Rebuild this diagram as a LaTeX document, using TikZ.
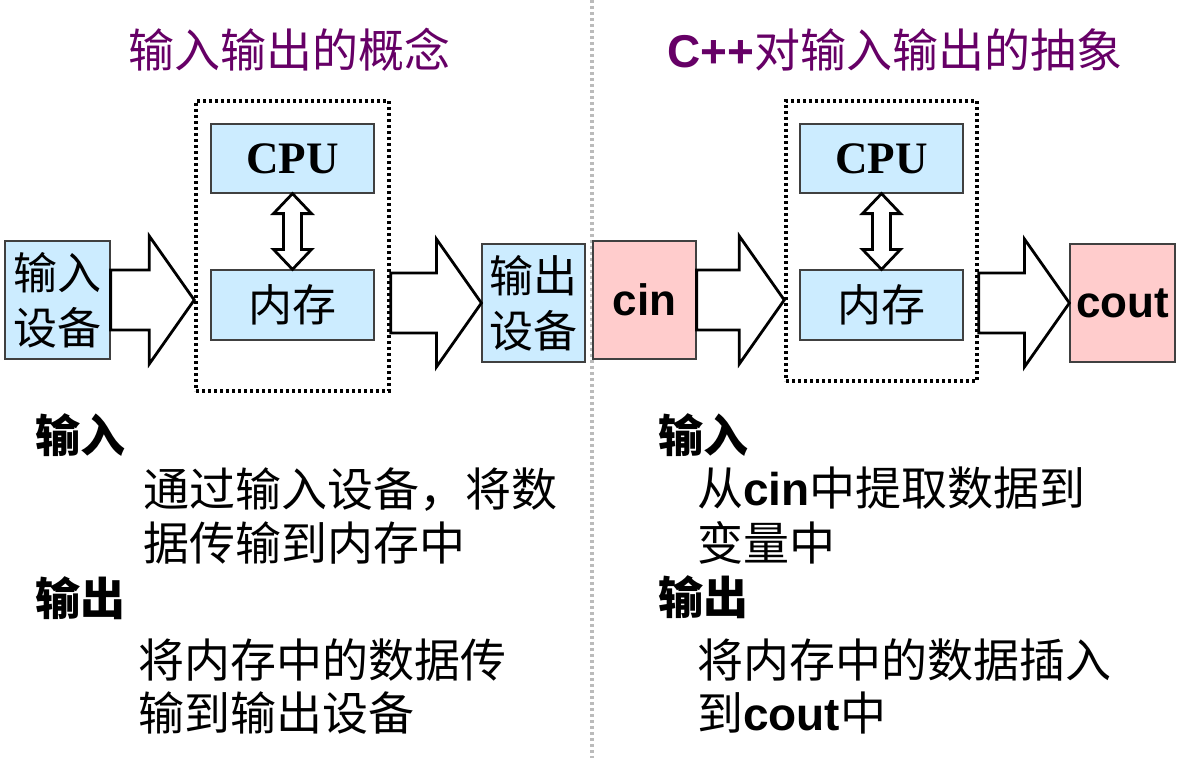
\documentclass[tikz,border=0pt]{standalone}
\usepackage{fontspec}
\setmainfont{Liberation Serif}
\newfontfamily\cjk{Noto Sans CJK SC}
\newfontfamily\arial{Liberation Sans}
\usetikzlibrary{calc}

\definecolor{boxblue}{HTML}{CCECFF}
\definecolor{boxpink}{HTML}{FFCCCC}
\definecolor{titlepurple}{HTML}{660066}
\definecolor{edgegray}{HTML}{404040}
\definecolor{dividergray}{HTML}{BBBBBB}

\newcommand{\ioarrow}[2]{%
  \draw[fatarrow] ($(#1)+(0,-30)$) -- ($(#2)+(-45,-30)$) -- ($(#2)+(-45,-64)$) -- (#2)
    -- ($(#2)+(-45,64)$) -- ($(#2)+(-45,30)$) -- ($(#1)+(0,30)$) -- cycle;}
\newcommand{\busarrow}[2]{%
  \draw[fatarrow] (#1) -- ($(#1)+(19,20)$) -- ($(#1)+(9,20)$) -- ($(#2)+(9,-20)$)
    -- ($(#2)+(19,-20)$) -- (#2) -- ($(#2)+(-19,-20)$) -- ($(#2)+(-9,-20)$)
    -- ($(#1)+(-9,20)$) -- ($(#1)+(-19,20)$) -- cycle;}

\begin{document}
\begin{tikzpicture}[x=1pt,y=-1pt,
            box/.style={draw=edgegray, line width=1.2pt, inner sep=0pt, align=center},
            bluebox/.style={box, fill=boxblue},
            pinkbox/.style={box, fill=boxpink},
            frame/.style={draw, line width=3.5pt, dash pattern=on 3pt off 3pt, inner sep=0pt},
            fatarrow/.style={draw, fill=white, line width=2.8pt, line join=miter},
            divider/.style={draw=dividergray, line width=3.5pt, dash pattern=on 3pt off 3pt},
            title/.style={anchor=west, inner sep=0pt, text=titlepurple, font=\cjk\fontsize{46}{55}\selectfont},
            heading/.style={anchor=west, inner sep=0pt, font=\cjk\bfseries\fontsize{45}{50}\selectfont},
            body/.style={anchor=west, inner sep=0pt, font=\cjk\fontsize{46}{55}\selectfont},
            cjkbox/.style={font=\cjk\fontsize{44}{55}\selectfont},
            cpubox/.style={font=\bfseries\fontsize{45}{50}\selectfont},
            streambox/.style={font=\arial\bfseries\fontsize{44}{50}\selectfont}]
            \useasboundingbox (0,0) rectangle (1181,758);
            \coordinate (divT) at (592,0);
            \coordinate (divB) at (592,758);
            \draw[divider] (divT) -- (divB);
            \node[title] (titleL) at (128,50) {输入输出的概念};
            \node[title] (titleR) at (667,50) {{\arial\bfseries C++}对输入输出的抽象};
            \node[frame, minimum width=193pt, minimum height=290pt] (frameL) at (292.5,246) {};
            \node[frame, minimum width=191pt, minimum height=280pt] (frameR) at (881.5,241) {};
            \node[bluebox, cjkbox, minimum width=105pt, minimum height=118pt] (inL) at (57.5,300) {输入\\设备};
            \node[bluebox, cpubox, minimum width=163pt, minimum height=69pt] (cpuL) at (292.5,158.5) {CPU};
            \node[bluebox, cjkbox, minimum width=163pt, minimum height=70pt] (memL) at (292.5,305) {内存};
            \node[bluebox, cjkbox, minimum width=103pt, minimum height=118pt] (outL) at (533.5,303) {输出\\设备};
            \node[pinkbox, streambox, minimum width=103pt, minimum height=118pt] (cinR) at (644.5,300) {cin};
            \node[bluebox, cpubox, minimum width=163pt, minimum height=69pt] (cpuR) at (881.5,158.5) {CPU};
            \node[bluebox, cjkbox, minimum width=163pt, minimum height=70pt] (memR) at (881.5,305) {内存};
            \node[pinkbox, streambox, minimum width=105pt, minimum height=118pt] (coutR) at (1122.5,303) {cout};
            \coordinate (tipA) at (frameL.west |- inL.east);
            \coordinate (tailB) at (frameL.east |- outL.west);
            \coordinate (tipC) at (frameR.west |- cinR.east);
            \coordinate (tailD) at (frameR.east |- coutR.west);
            \ioarrow{inL.east}{tipA}
            \ioarrow{tailB}{outL.west}
            \ioarrow{cinR.east}{tipC}
            \ioarrow{tailD}{coutR.west}
            \busarrow{cpuL.south}{memL.north}
            \busarrow{cpuR.south}{memR.north}
            \node[heading] (inHeadL) at (35,435) {输入};
            \node[body] (inTextL1) at (143,490) {通过输入设备，将数};
            \node[body] (inTextL2) at (143,543) {据传输到内存中};
            \node[heading] (outHeadL) at (35,598) {输出};
            \node[body] (outTextL1) at (138,660) {将内存中的数据传};
            \node[body] (outTextL2) at (138,713) {输到输出设备};
            \node[heading] (inHeadR) at (658,435) {输入};
            \node[body] (inTextR1) at (697,488) {从{\arial\bfseries cin}中提取数据到};
            \node[body] (inTextR2) at (697,543) {变量中};
            \node[heading] (outHeadR) at (658,597) {输出};
            \node[body] (outTextR1) at (697,660) {将内存中的数据插入};
            \node[body] (outTextR2) at (697,713) {到{\arial\bfseries cout}中};
        \end{tikzpicture}
\end{document}
